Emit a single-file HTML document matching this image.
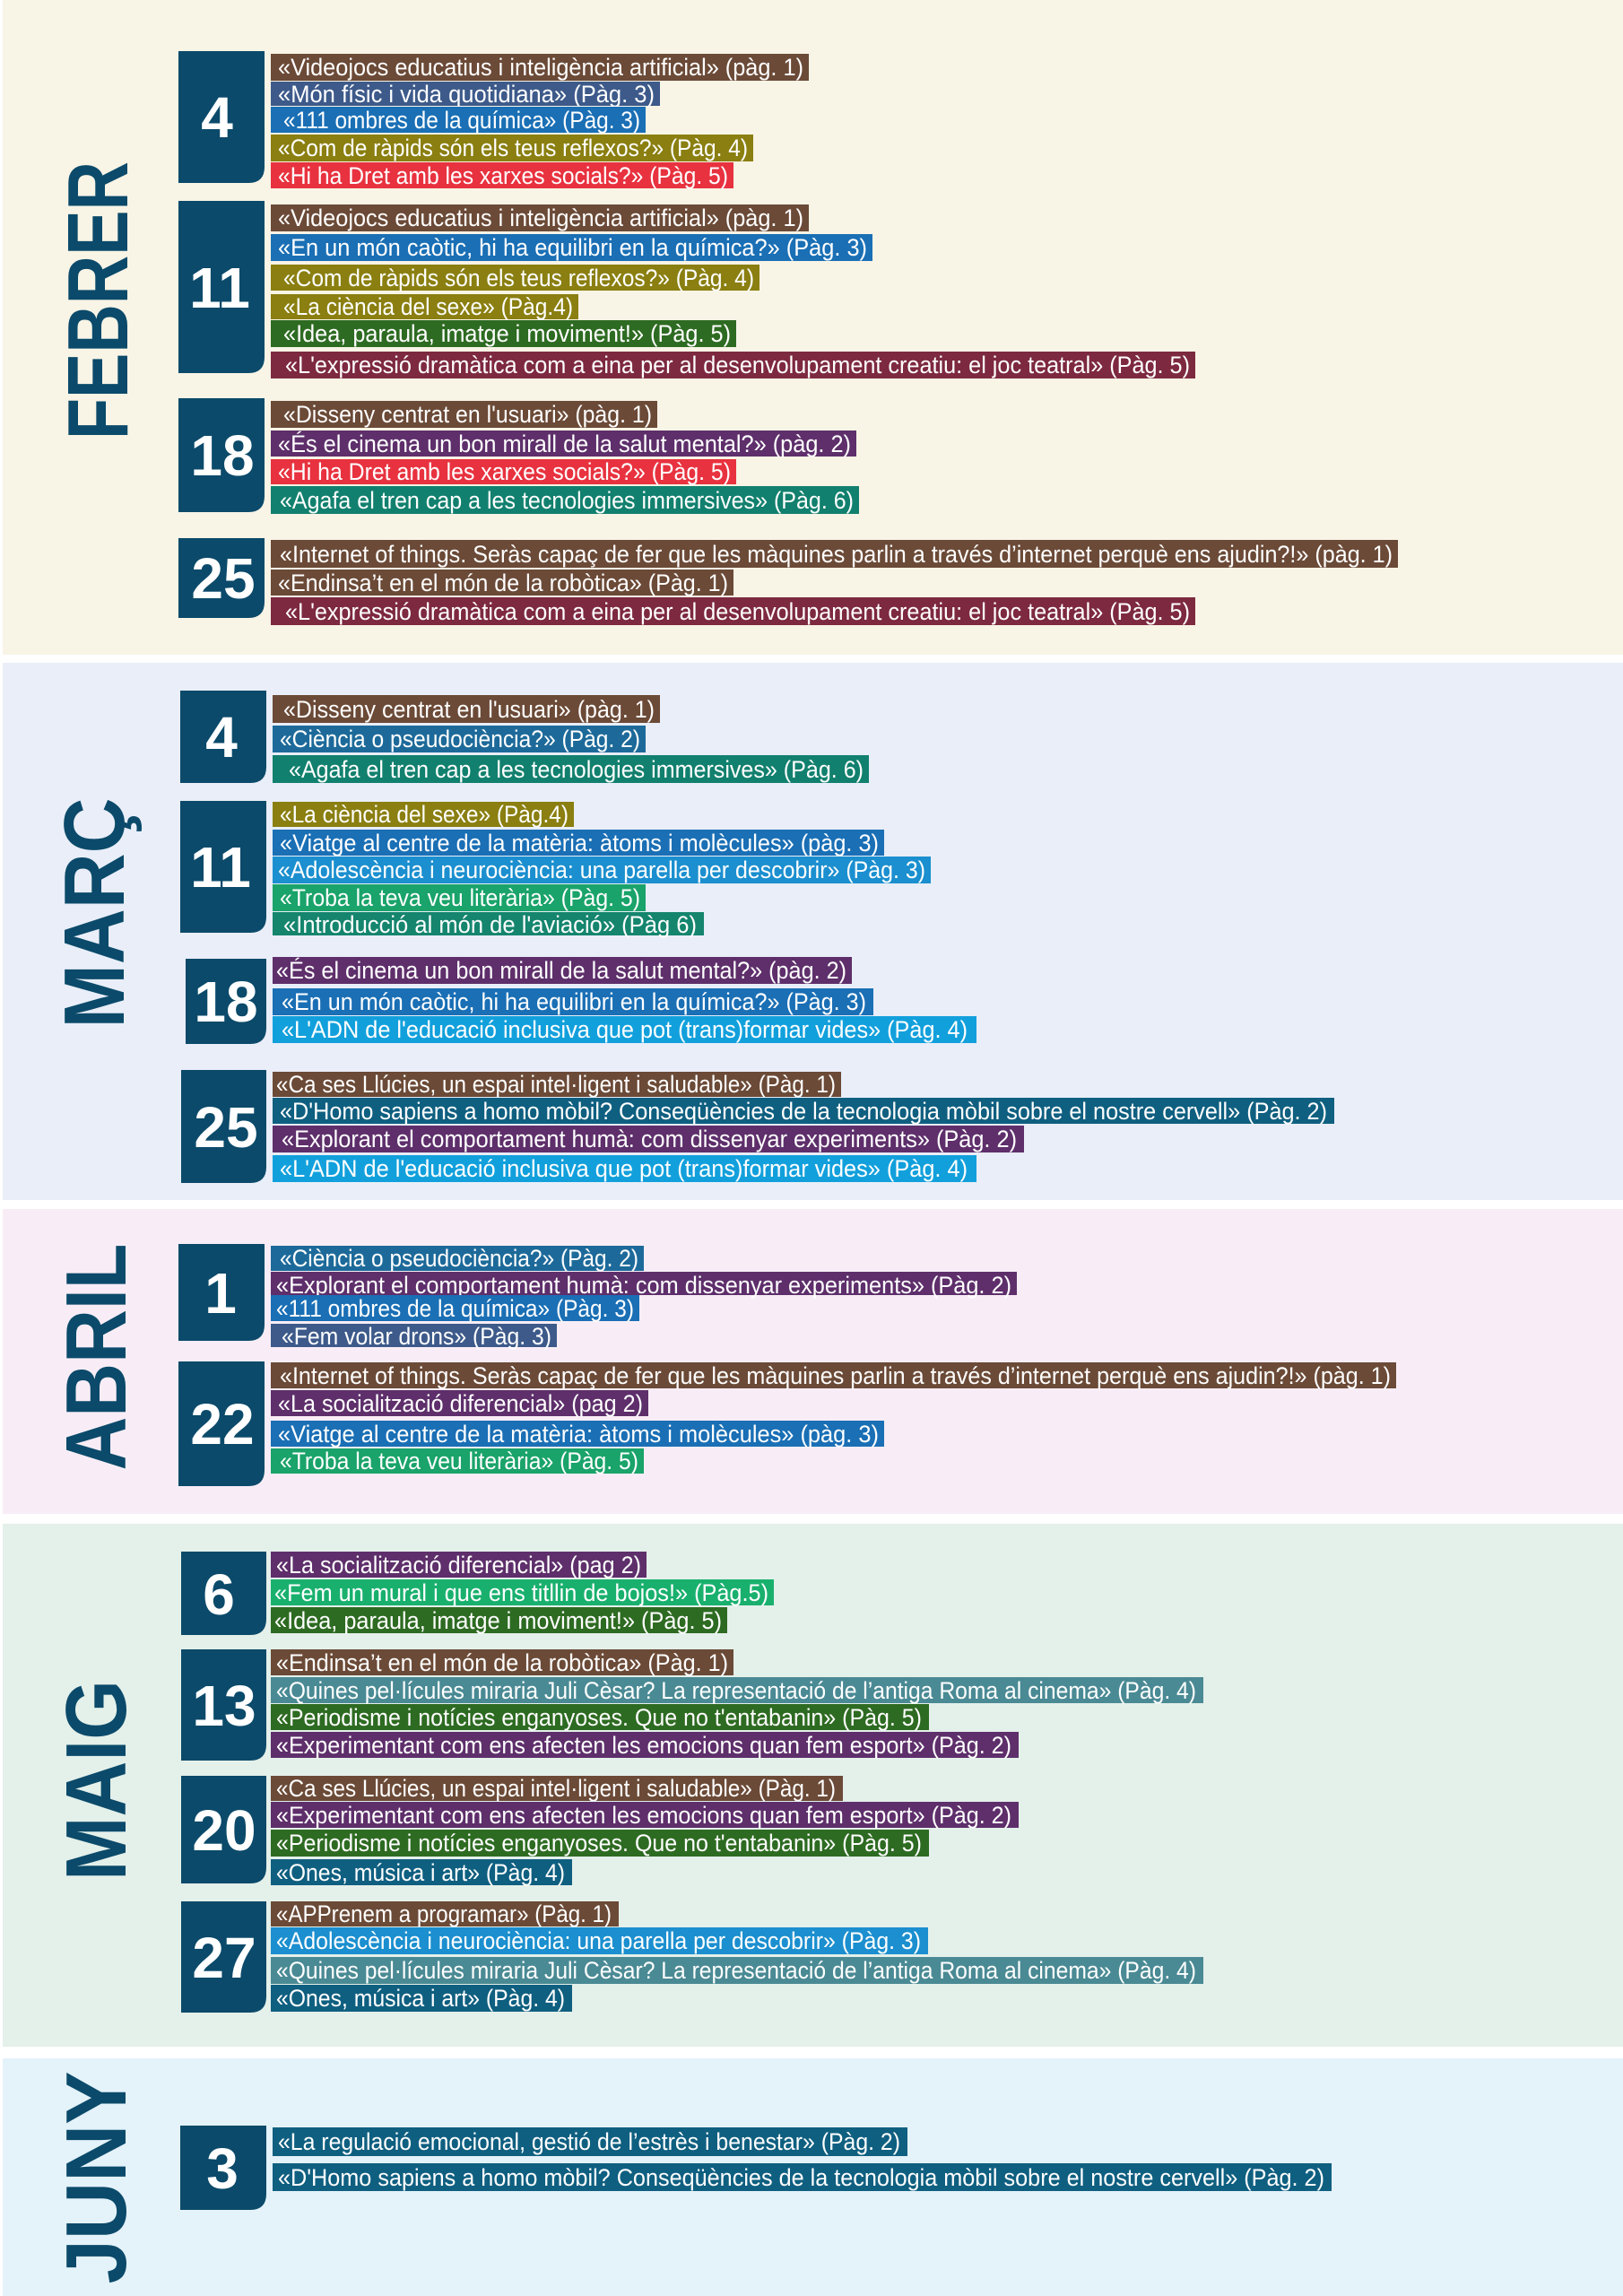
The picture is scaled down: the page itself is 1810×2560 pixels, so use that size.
<!DOCTYPE html>
<html><head><meta charset="utf-8"><style>
html,body{margin:0;padding:0;background:#fff}
svg{display:block}
.t{font-family:"Liberation Sans",sans-serif;font-size:27px;fill:#fff}
.n{font-family:"Liberation Sans",sans-serif;font-weight:bold;font-size:64px;fill:#fff}
.m{font-family:"Liberation Sans",sans-serif;font-weight:bold;font-size:96px;fill:#0b4a6a}
</style></head><body>
<svg width="1810" height="2560" viewBox="0 0 1810 2560" xmlns="http://www.w3.org/2000/svg">
<rect x="3" y="0" width="1807" height="730" fill="#f8f4e6"/>
<rect x="3" y="739" width="1807" height="599" fill="#e9eef8"/>
<rect x="3" y="1348" width="1807" height="340" fill="#f8edf6"/>
<rect x="3" y="1699" width="1807" height="583" fill="#e4f0ea"/>
<rect x="3" y="2295" width="1807" height="265" fill="#e4f2fa"/>

<g class="m">
<text class="m" transform="translate(142,335) rotate(-90)" text-anchor="middle" textLength="310" lengthAdjust="spacingAndGlyphs">FEBRER</text>
<text class="m" transform="translate(138,1018) rotate(-90)" text-anchor="middle" textLength="257" lengthAdjust="spacingAndGlyphs">MARÇ</text>
<text class="m" transform="translate(140,1513) rotate(-90)" text-anchor="middle" textLength="253" lengthAdjust="spacingAndGlyphs">ABRIL</text>
<text class="m" transform="translate(140,1985) rotate(-90)" text-anchor="middle" textLength="224" lengthAdjust="spacingAndGlyphs">MAIG</text>
<text class="m" transform="translate(140,2428) rotate(-90)" text-anchor="middle" textLength="237" lengthAdjust="spacingAndGlyphs">JUNY</text>
</g>

<g fill="#0b4a6a">
<path d="M199 57H295V186Q295 204 277 204H199Z"/>
<path d="M199 224H295V398Q295 416 277 416H199Z"/>
<path d="M199 444H295V553Q295 571 277 571H199Z"/>
<path d="M199 600H295V671Q295 689 277 689H199Z"/>
<path d="M201 770H297V855Q297 873 279 873H201Z"/>
<path d="M201 893H297V1022Q297 1040 279 1040H201Z"/>
<path d="M207 1069H297V1146Q297 1164 279 1164H207Z"/>
<path d="M202 1193H297V1301Q297 1319 279 1319H202Z"/>
<path d="M199 1387H295V1477Q295 1495 277 1495H199Z"/>
<path d="M199 1518H295V1639Q295 1657 277 1657H199Z"/>
<path d="M202 1730H297V1805Q297 1823 279 1823H202Z"/>
<path d="M202 1839H297V1945Q297 1963 279 1963H202Z"/>
<path d="M202 1980H297V2082Q297 2100 279 2100H202Z"/>
<path d="M202 2120H297V2226Q297 2244 279 2244H202Z"/>
<path d="M201 2370H297V2446Q297 2464 279 2464H201Z"/>
</g>
<g class="n" text-anchor="middle">
<text class="n" x="242" y="153">4</text>
<text class="n" x="245" y="343">11</text>
<text class="n" x="248" y="530">18</text>
<text class="n" x="249" y="667">25</text>
<text class="n" x="247" y="844">4</text>
<text class="n" x="246" y="989">11</text>
<text class="n" x="252" y="1139">18</text>
<text class="n" x="252" y="1279">25</text>
<text class="n" x="246" y="1464">1</text>
<text class="n" x="248" y="1610">22</text>
<text class="n" x="244" y="1800">6</text>
<text class="n" x="250" y="1924">13</text>
<text class="n" x="250" y="2063">20</text>
<text class="n" x="250" y="2205">27</text>
<text class="n" x="248" y="2440">3</text>
</g>

<rect x="302" y="60" width="600" height="30" fill="#6b4a37"/><text class="t" x="310" y="84" textLength="586" lengthAdjust="spacingAndGlyphs">«Videojocs educatius i inteligència artificial» (pàg. 1)</text>
<rect x="302" y="91" width="434" height="27" fill="#3d5a8a"/><text class="t" x="310" y="114" textLength="420" lengthAdjust="spacingAndGlyphs">«Món físic i vida quotidiana» (Pàg. 3)</text>
<rect x="302" y="119" width="418" height="29" fill="#1a6fb5"/><text class="t" x="316" y="143" textLength="398" lengthAdjust="spacingAndGlyphs">«111 ombres de la química» (Pàg. 3)</text>
<rect x="302" y="150" width="538" height="30" fill="#8a7f10"/><text class="t" x="310" y="174" textLength="524" lengthAdjust="spacingAndGlyphs">«Com de ràpids són els teus reflexos?» (Pàg. 4)</text>
<rect x="302" y="181" width="516" height="29" fill="#e8323f"/><text class="t" x="310" y="205" textLength="502" lengthAdjust="spacingAndGlyphs">«Hi ha Dret amb les xarxes socials?» (Pàg. 5)</text>
<rect x="302" y="228" width="600" height="30" fill="#6b4a37"/><text class="t" x="310" y="252" textLength="586" lengthAdjust="spacingAndGlyphs">«Videojocs educatius i inteligència artificial» (pàg. 1)</text>
<rect x="302" y="261" width="671" height="30" fill="#1a6fb5"/><text class="t" x="310" y="285" textLength="657" lengthAdjust="spacingAndGlyphs">«En un món caòtic, hi ha equilibri en la química?» (Pàg. 3)</text>
<rect x="302" y="295" width="545" height="29" fill="#8a7f10"/><text class="t" x="316" y="319" textLength="525" lengthAdjust="spacingAndGlyphs">«Com de ràpids són els teus reflexos?» (Pàg. 4)</text>
<rect x="302" y="328" width="343" height="28" fill="#8a7f10"/><text class="t" x="316" y="351" textLength="323" lengthAdjust="spacingAndGlyphs">«La ciència del sexe» (Pàg.4)</text>
<rect x="302" y="357" width="519" height="30" fill="#2e6b22"/><text class="t" x="316" y="381" textLength="499" lengthAdjust="spacingAndGlyphs">«Idea, paraula, imatge i moviment!» (Pàg. 5)</text>
<rect x="302" y="392" width="1031" height="30" fill="#7d2940"/><text class="t" x="318" y="416" textLength="1009" lengthAdjust="spacingAndGlyphs">«L'expressió dramàtica com a eina per al desenvolupament creatiu: el joc teatral» (Pàg. 5)</text>
<rect x="302" y="447" width="431" height="30" fill="#6b4a37"/><text class="t" x="316" y="471" textLength="411" lengthAdjust="spacingAndGlyphs">«Disseny centrat en l'usuari» (pàg. 1)</text>
<rect x="302" y="480" width="653" height="29" fill="#5e2f6b"/><text class="t" x="310" y="504" textLength="639" lengthAdjust="spacingAndGlyphs">«És el cinema un bon mirall de la salut mental?» (pàg. 2)</text>
<rect x="302" y="512" width="519" height="28" fill="#e8323f"/><text class="t" x="310" y="535" textLength="505" lengthAdjust="spacingAndGlyphs">«Hi ha Dret amb les xarxes socials?» (Pàg. 5)</text>
<rect x="302" y="542" width="656" height="31" fill="#12806e"/><text class="t" x="312" y="567" textLength="640" lengthAdjust="spacingAndGlyphs">«Agafa el tren cap a les tecnologies immersives» (Pàg. 6)</text>
<rect x="302" y="602" width="1257" height="31" fill="#6b4a37"/><text class="t" x="312" y="627" textLength="1241" lengthAdjust="spacingAndGlyphs">«Internet of things. Seràs capaç de fer que les màquines parlin a través d’internet perquè ens ajudin?!» (pàg. 1)</text>
<rect x="302" y="635" width="516" height="29" fill="#6b4a37"/><text class="t" x="310" y="659" textLength="502" lengthAdjust="spacingAndGlyphs">«Endinsa’t en el món de la robòtica» (Pàg. 1)</text>
<rect x="302" y="666" width="1031" height="31" fill="#7d2940"/><text class="t" x="318" y="691" textLength="1009" lengthAdjust="spacingAndGlyphs">«L'expressió dramàtica com a eina per al desenvolupament creatiu: el joc teatral» (Pàg. 5)</text>

<rect x="304" y="775" width="432" height="31" fill="#6b4a37"/><text class="t" x="316" y="800" textLength="414" lengthAdjust="spacingAndGlyphs">«Disseny centrat en l'usuari» (pàg. 1)</text>
<rect x="304" y="809" width="416" height="30" fill="#1d6a9a"/><text class="t" x="312" y="833" textLength="402" lengthAdjust="spacingAndGlyphs">«Ciència o pseudociència?» (Pàg. 2)</text>
<rect x="304" y="842" width="665" height="31" fill="#12806e"/><text class="t" x="322" y="867" textLength="641" lengthAdjust="spacingAndGlyphs">«Agafa el tren cap a les tecnologies immersives» (Pàg. 6)</text>
<rect x="304" y="894" width="336" height="28" fill="#8a7f10"/><text class="t" x="312" y="917" textLength="322" lengthAdjust="spacingAndGlyphs">«La ciència del sexe» (Pàg.4)</text>
<rect x="304" y="925" width="682" height="29" fill="#1a6fb5"/><text class="t" x="312" y="949" textLength="668" lengthAdjust="spacingAndGlyphs">«Viatge al centre de la matèria: àtoms i molècules» (pàg. 3)</text>
<rect x="304" y="955" width="734" height="30" fill="#1b8fcf"/><text class="t" x="310" y="979" textLength="722" lengthAdjust="spacingAndGlyphs">«Adolescència i neurociència: una parella per descobrir» (Pàg. 3)</text>
<rect x="304" y="986" width="416" height="30" fill="#1aa36a"/><text class="t" x="312" y="1010" textLength="402" lengthAdjust="spacingAndGlyphs">«Troba la teva veu literària» (Pàg. 5)</text>
<rect x="304" y="1017" width="481" height="26" fill="#15856e"/><text class="t" x="316" y="1040" textLength="461" lengthAdjust="spacingAndGlyphs">«Introducció al món de l'aviació» (Pàg 6)</text>
<rect x="304" y="1067" width="646" height="30" fill="#5e2f6b"/><text class="t" x="308" y="1091" textLength="636" lengthAdjust="spacingAndGlyphs">«És el cinema un bon mirall de la salut mental?» (pàg. 2)</text>
<rect x="304" y="1102" width="670" height="30" fill="#1a6fb5"/><text class="t" x="314" y="1126" textLength="652" lengthAdjust="spacingAndGlyphs">«En un món caòtic, hi ha equilibri en la química?» (Pàg. 3)</text>
<rect x="304" y="1133" width="785" height="30" fill="#12a0dc"/><text class="t" x="314" y="1157" textLength="765" lengthAdjust="spacingAndGlyphs">«L'ADN de l'educació inclusiva que pot (trans)formar vides» (Pàg. 4)</text>
<rect x="304" y="1195" width="634" height="28" fill="#6b4a37"/><text class="t" x="308" y="1218" textLength="624" lengthAdjust="spacingAndGlyphs">«Ca ses Llúcies, un espai intel·ligent i saludable» (Pàg. 1)</text>
<rect x="304" y="1224" width="1184" height="29" fill="#0f5f80"/><text class="t" x="312" y="1248" textLength="1168" lengthAdjust="spacingAndGlyphs">«D'Homo sapiens a homo mòbil? Conseqüències de la tecnologia mòbil sobre el nostre cervell» (Pàg. 2)</text>
<rect x="304" y="1255" width="838" height="30" fill="#5e2f6b"/><text class="t" x="314" y="1279" textLength="820" lengthAdjust="spacingAndGlyphs">«Explorant el comportament humà: com dissenyar experiments» (Pàg. 2)</text>
<rect x="304" y="1288" width="785" height="30" fill="#12a0dc"/><text class="t" x="312" y="1312" textLength="767" lengthAdjust="spacingAndGlyphs">«L'ADN de l'educació inclusiva que pot (trans)formar vides» (Pàg. 4)</text>

<rect x="302" y="1389" width="416" height="28" fill="#1d6a9a"/><text class="t" x="312" y="1412" textLength="400" lengthAdjust="spacingAndGlyphs">«Ciència o pseudociència?» (Pàg. 2)</text>
<rect x="302" y="1418" width="832" height="26" fill="#5e2f6b"/><text class="t" x="308" y="1442" textLength="820" lengthAdjust="spacingAndGlyphs">«Explorant el comportament humà: com dissenyar experiments» (Pàg. 2)</text>
<rect x="302" y="1444" width="411" height="29" fill="#1a6fb5"/><text class="t" x="308" y="1468" textLength="399" lengthAdjust="spacingAndGlyphs">«111 ombres de la química» (Pàg. 3)</text>
<rect x="302" y="1476" width="319" height="26" fill="#3d5a8a"/><text class="t" x="314" y="1499" textLength="301" lengthAdjust="spacingAndGlyphs">«Fem volar drons» (Pàg. 3)</text>
<rect x="302" y="1519" width="1255" height="29" fill="#6b4a37"/><text class="t" x="312" y="1543" textLength="1239" lengthAdjust="spacingAndGlyphs">«Internet of things. Seràs capaç de fer que les màquines parlin a través d’internet perquè ens ajudin?!» (pàg. 1)</text>
<rect x="302" y="1550" width="421" height="29" fill="#5e2f6b"/><text class="t" x="310" y="1574" textLength="407" lengthAdjust="spacingAndGlyphs">«La socialització diferencial» (pag 2)</text>
<rect x="302" y="1584" width="684" height="29" fill="#1a6fb5"/><text class="t" x="310" y="1608" textLength="670" lengthAdjust="spacingAndGlyphs">«Viatge al centre de la matèria: àtoms i molècules» (pàg. 3)</text>
<rect x="302" y="1615" width="416" height="28" fill="#1aa36a"/><text class="t" x="312" y="1638" textLength="400" lengthAdjust="spacingAndGlyphs">«Troba la teva veu literària» (Pàg. 5)</text>

<rect x="302" y="1730" width="419" height="29" fill="#5e2f6b"/><text class="t" x="308" y="1754" textLength="407" lengthAdjust="spacingAndGlyphs">«La socialització diferencial» (pag 2)</text>
<rect x="302" y="1761" width="561" height="29" fill="#19b06e"/><text class="t" x="306" y="1785" textLength="551" lengthAdjust="spacingAndGlyphs">«Fem un mural i que ens titllin de bojos!» (Pàg.5)</text>
<rect x="302" y="1792" width="509" height="29" fill="#2e6b22"/><text class="t" x="306" y="1816" textLength="499" lengthAdjust="spacingAndGlyphs">«Idea, paraula, imatge i moviment!» (Pàg. 5)</text>
<rect x="302" y="1839" width="516" height="29" fill="#6b4a37"/><text class="t" x="308" y="1863" textLength="504" lengthAdjust="spacingAndGlyphs">«Endinsa’t en el món de la robòtica» (Pàg. 1)</text>
<rect x="302" y="1870" width="1040" height="29" fill="#4a8a94"/><text class="t" x="308" y="1894" textLength="1026" lengthAdjust="spacingAndGlyphs">«Quines pel·lícules miraria Juli Cèsar? La representació de l’antiga Roma al cinema» (Pàg. 4)</text>
<rect x="302" y="1900" width="734" height="29" fill="#2e6b22"/><text class="t" x="308" y="1924" textLength="720" lengthAdjust="spacingAndGlyphs">«Periodisme i notícies enganyoses. Que no t'entabanin» (Pàg. 5)</text>
<rect x="302" y="1931" width="834" height="29" fill="#5e2f6b"/><text class="t" x="308" y="1955" textLength="820" lengthAdjust="spacingAndGlyphs">«Experimentant com ens afecten les emocions quan fem esport» (Pàg. 2)</text>
<rect x="302" y="1980" width="638" height="28" fill="#6b4a37"/><text class="t" x="308" y="2003" textLength="624" lengthAdjust="spacingAndGlyphs">«Ca ses Llúcies, un espai intel·ligent i saludable» (Pàg. 1)</text>
<rect x="302" y="2009" width="834" height="29" fill="#5e2f6b"/><text class="t" x="308" y="2033" textLength="820" lengthAdjust="spacingAndGlyphs">«Experimentant com ens afecten les emocions quan fem esport» (Pàg. 2)</text>
<rect x="302" y="2040" width="734" height="30" fill="#2e6b22"/><text class="t" x="308" y="2064" textLength="720" lengthAdjust="spacingAndGlyphs">«Periodisme i notícies enganyoses. Que no t'entabanin» (Pàg. 5)</text>
<rect x="302" y="2073" width="336" height="29" fill="#0f5f80"/><text class="t" x="308" y="2097" textLength="322" lengthAdjust="spacingAndGlyphs">«Ones, música i art» (Pàg. 4)</text>
<rect x="302" y="2120" width="388" height="28" fill="#6b4a37"/><text class="t" x="308" y="2143" textLength="374" lengthAdjust="spacingAndGlyphs">«APPrenem a programar» (Pàg. 1)</text>
<rect x="302" y="2149" width="733" height="30" fill="#1b8fcf"/><text class="t" x="308" y="2173" textLength="719" lengthAdjust="spacingAndGlyphs">«Adolescència i neurociència: una parella per descobrir» (Pàg. 3)</text>
<rect x="302" y="2182" width="1040" height="30" fill="#4a8a94"/><text class="t" x="308" y="2206" textLength="1026" lengthAdjust="spacingAndGlyphs">«Quines pel·lícules miraria Juli Cèsar? La representació de l’antiga Roma al cinema» (Pàg. 4)</text>
<rect x="302" y="2213" width="336" height="30" fill="#0f5f80"/><text class="t" x="308" y="2237" textLength="322" lengthAdjust="spacingAndGlyphs">«Ones, música i art» (Pàg. 4)</text>

<rect x="304" y="2372" width="708" height="32" fill="#0f5f80"/><text class="t" x="310" y="2397" textLength="694" lengthAdjust="spacingAndGlyphs">«La regulació emocional, gestió de l’estrès i benestar» (Pàg. 2)</text>
<rect x="304" y="2412" width="1181" height="31" fill="#0f5f80"/><text class="t" x="310" y="2437" textLength="1167" lengthAdjust="spacingAndGlyphs">«D'Homo sapiens a homo mòbil? Conseqüències de la tecnologia mòbil sobre el nostre cervell» (Pàg. 2)</text>
</svg>
</body></html>
